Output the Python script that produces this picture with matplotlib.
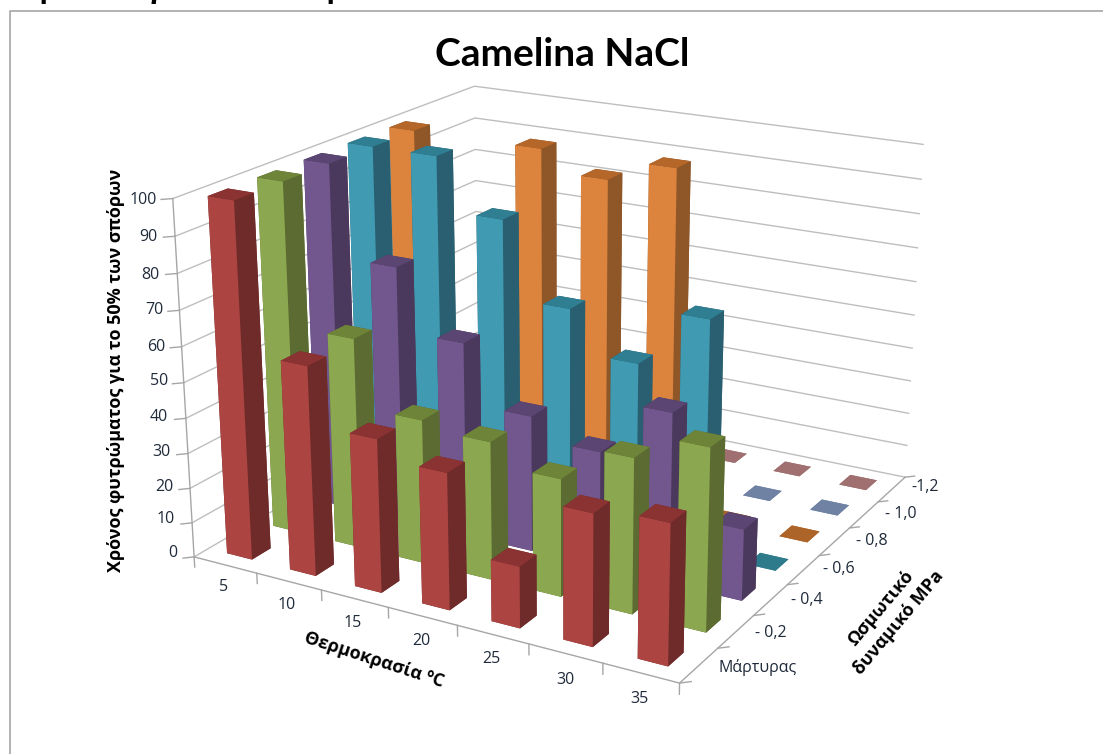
import matplotlib
matplotlib.use("Agg")
import matplotlib.pyplot as plt
from matplotlib.lines import Line2D

temps = ["5", "10", "15", "20", "25", "30", "35"]
potentials = ["Μάρτυρας", "- 0,2", "- 0,4", "- 0,6", "- 0,8", "- 1,0", "-1,2"]
control = [100, 59, 43, 38, 17, 36, 38]
mpa_02 = [100, 60, 41, 39, 33, 43, 50]
mpa_04 = [100, 74, 56, 39, 33, 48, 20]
mpa_06 = [100, 100, 85, 63, 51, 67, 0]
mpa_08 = [100, 0, 100, 94, 100, 0, 0]
mpa_10 = [0, 0, 0, 0, 0, 0, 0]
mpa_12 = [0, 0, 0, 0, 0, 0, 0]
series = [control, mpa_02, mpa_04, mpa_06, mpa_08, mpa_10, mpa_12]
z_ticks = [0, 10, 20, 30, 40, 50, 60, 70, 80, 90, 100]

# front, side, top, flat (zero height)
colours = [
    ("#AC4542", "#6F2B2A", "#8A3332", "#A07070"),
    ("#8BA74F", "#5B6B31", "#6E8439", "#6E8439"),
    ("#72578F", "#4A395C", "#5B4673", "#5B4673"),
    ("#3F9AB2", "#295F70", "#2F7E92", "#2E7B8B"),
    ("#DC843D", "#8F5628", "#B5672A", "#AD6428"),
    ("#4F81BD", "#35567E", "#41699A", "#6F82A4"),
    ("#A07070", "#6F2B2A", "#8A3332", "#A07070"),
]

W, H = 1103, 754
fig = plt.figure(figsize=(W / 100, H / 100), dpi=100)
# camera and box found by fitting the corners of the reference box
ax = fig.add_axes([145.3 / W, -12.4 / H, 815.8 / W, 815.8 / H], projection="3d")
ax.set_xlim(0, 7)
ax.set_ylim(0, 7)
ax.set_zlim(0, 100)
ax.view_init(elev=19.45, azim=-60.518)
ax.set_proj_type("persp", focal_length=0.515)
ax.set_box_aspect((1.462, 1.464, 1.0))
ax.set_axis_off()
ax.patch.set_alpha(0)
ax.computed_zorder = False

grid = "#BEBEBE"
axis = "#A6A6A6"
for z in z_ticks:
    ax.plot([0, 0, 7], [0, 7, 7], [z, z, z], color=grid, lw=1.0, zorder=1)
    ax.plot([0, -0.1], [0, -0.1], [z, z], color=axis, lw=1.0, zorder=1)
ax.plot([0, 0], [0, 0], [0, 100], color=axis, lw=1.0, zorder=1)
ax.plot([0, 7, 7], [0, 0, 7], [0, 0, 0], color=axis, lw=1.0, zorder=1)
for i in range(len(temps) + 1):
    ax.plot([i, i], [0, 0], [0, -3], color=axis, lw=1.0, zorder=1)
for j in range(len(potentials) + 1):
    ax.plot([7, 7.1], [j, j + 0.1], [0, 0], color=axis, lw=1.0, zorder=1)

bar_w = 0.4
order = 2
for j in range(len(series) - 1, -1, -1):
    front, dark, top, flat = colours[j]
    for i in range(len(temps)):
        v = series[j][i]
        if v == 0:
            face = [flat] * 6
        else:
            face = [dark, top, front, dark, dark, dark]
        ax.bar3d(i + 0.5 - bar_w / 2, j + 0.5 - bar_w / 2, 0, bar_w, bar_w, v,
                 color=face, shade=False, linewidth=0, zorder=order)
        order += 1

label_font = ["Open Sans", "DejaVu Sans"]


def px_text(x, y, s, **kw):
    kw.setdefault("ha", "center")
    kw.setdefault("va", "center")
    kw.setdefault("family", label_font)
    fig.text(x / W, 1 - y / H, s, **kw)


z_label_px = [(177, 553), (175, 519), (173, 487), (171, 452), (168, 417), (168, 381), (165, 347), (163, 310), (160, 275), (158, 237), (157, 200)]
x_label_px = [(224, 587), (287, 605), (353, 623), (421, 641), (491, 659), (565, 680), (639, 699)]
y_label_px = [(758, 667), (771, 633), (807, 600), (839, 569), (872, 541), (901, 514), (925, 487)]
tick_col = "#1F2A3A"
for (x, y), z in zip(z_label_px, z_ticks):
    px_text(x, y, str(z), ha="right", fontsize=11.5, color=tick_col)
for (x, y), t in zip(x_label_px, temps):
    px_text(x, y, t, fontsize=11.5, color=tick_col)
for (x, y), t in zip(y_label_px, potentials):
    px_text(x, y, t, fontsize=11.5, color=tick_col)

px_text(562, 55, "Camelina NaCl", family=["Lato", "Open Sans"], fontsize=28, fontweight="bold", color="black")
px_text(116, 370, "Χρόνος φυτρώματος για το 50% των σπόρων", fontsize=13, fontweight="bold", rotation=90, color="black")
px_text(374, 660, "Θερμοκρασία ºC", fontsize=13, fontweight="bold", rotation=-18, rotation_mode="anchor", color="black")
px_text(890, 615, "Ωσμωτικό\nδυναμικό MPa", fontsize=13, fontweight="bold", rotation=50, rotation_mode="anchor", color="black", linespacing=1.3)

# bottom of the page heading that the crop cuts off
for x, s in [(48, "ρ"), (155, "γ"), (335, "ρ")]:
    px_text(x, -3, s, va="baseline", fontsize=20, fontweight="bold", color="black")

frame = "#A6A6A6"
fig.add_artist(Line2D([10 / W, 10 / W, 1], [0, 1 - 11 / H, 1 - 11 / H], color=frame, lw=1.2))

fig.savefig("out.png", dpi=100)
